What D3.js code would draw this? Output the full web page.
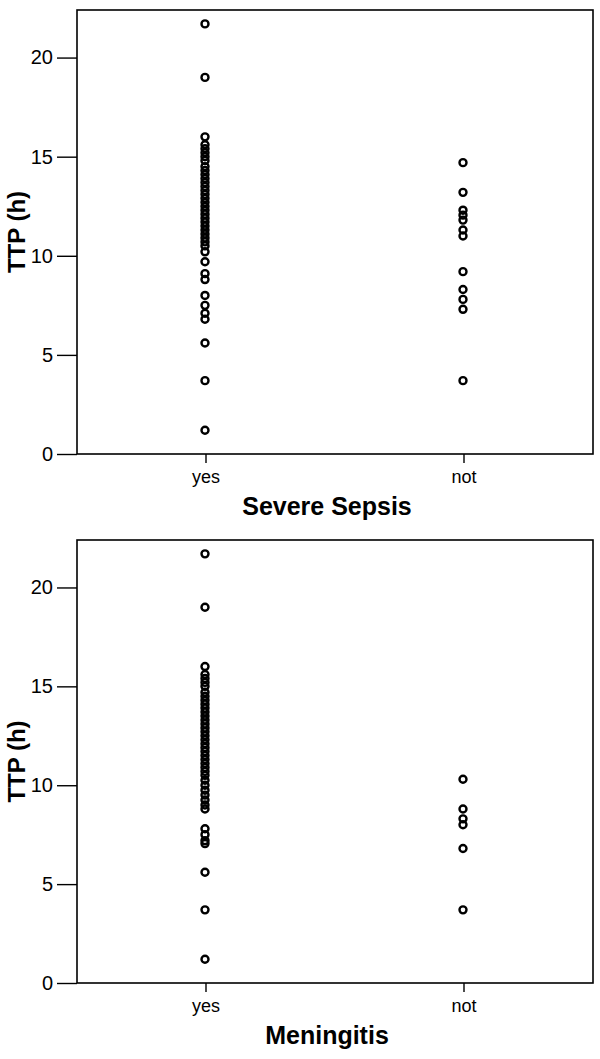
<!DOCTYPE html>
<html>
<head>
<meta charset="utf-8">
<script src="https://cdn.jsdelivr.net/npm/d3@7"></script>
<style>
body{margin:0;background:#fff;}
svg{display:block;}
text{font-family:"Liberation Sans",Arial,Helvetica,sans-serif;fill:#000;}
</style>
</head>
<body>
<svg id="chart" width="600" height="1059"></svg>
<script>
const categories = ["yes", "not"];
const yTicks = [0, 5, 10, 15, 20];
const yDomain = [0, 22.4];

const sepsisYes = [21.7, 19.0, 16.0, 15.6, 15.4, 15.2, 15.0, 14.8, 14.5, 14.3, 14.1, 13.9, 13.7, 13.5, 13.3, 13.1, 12.9, 12.7, 12.5, 12.3, 12.1, 11.9, 11.7, 11.5, 11.3, 11.1, 10.9, 10.7, 10.5, 10.2, 9.7, 9.1, 8.8, 8.0, 7.5, 7.1, 6.8, 5.6, 3.7, 1.2];
const sepsisNot = [14.7, 13.2, 12.3, 12.05, 11.8, 11.3, 11.0, 9.2, 8.3, 7.8, 7.3, 3.7];
const meningYes = [21.7, 19.0, 16.0, 15.6, 15.4, 15.2, 15.0, 14.7, 14.5, 14.3, 14.1, 13.9, 13.7, 13.5, 13.3, 13.1, 12.9, 12.7, 12.5, 12.3, 12.1, 11.9, 11.7, 11.5, 11.3, 11.1, 10.9, 10.7, 10.5, 10.25, 10.0, 9.75, 9.5, 9.25, 9.0, 8.8, 7.8, 7.5, 7.2, 7.05, 5.6, 3.7, 1.2];
const meningNot = [10.3, 8.8, 8.3, 8.0, 6.8, 3.7];

const panels = [
  {title: "Severe Sepsis", yes: sepsisYes, not: sepsisNot, top: 10, bottom: 454},
  {title: "Meningitis", yes: meningYes, not: meningNot, top: 540, bottom: 983}
];

const svg = d3.select("#chart");
const left = 77, right = 593;

panels.forEach(p => {
  const g = svg.append("g");
  const x = d3.scaleBand().domain(categories).range([left, right]).padding(0);
  const y = d3.scaleLinear().domain(yDomain).range([p.bottom, p.top]);

  // frame
  g.append("rect").attr("x", left).attr("y", p.top)
    .attr("width", right - left).attr("height", p.bottom - p.top)
    .attr("fill", "none").attr("stroke", "#000").attr("stroke-width", 1.6);

  // y axis
  const ya = g.append("g").attr("transform", `translate(${left},0)`)
    .call(d3.axisLeft(y).tickValues(yTicks).tickSize(20).tickPadding(4).tickFormat(d3.format("d")));
  ya.select(".domain").remove();
  ya.selectAll("line").attr("stroke", "#000").attr("stroke-width", 1.4);
  ya.selectAll("text").attr("font-size", 20).style("font-family", '"Liberation Sans",Arial,sans-serif');

  // x axis
  const xa = g.append("g").attr("transform", `translate(0,${p.bottom})`)
    .call(d3.axisBottom(x).tickSize(9).tickPadding(7));
  xa.select(".domain").remove();
  xa.selectAll("line").attr("stroke", "#000").attr("stroke-width", 1.4);
  xa.selectAll("text").attr("font-size", 18).style("font-family", '"Liberation Sans",Arial,sans-serif');

  // axis titles
  g.append("text").attr("x", (left + right) / 2 - 8).attr("y", p.bottom + 61)
    .attr("text-anchor", "middle").attr("font-size", 25).attr("font-weight", "bold")
    .text(p.title);
  g.append("text")
    .attr("transform", `translate(25,${(p.top + p.bottom) / 2}) rotate(-90)`)
    .attr("text-anchor", "middle").attr("font-size", 24).attr("font-weight", "bold")
    .text("TTP (h)");

  // points
  const pts = [];
  p.yes.forEach(v => pts.push({c: "yes", v}));
  p.not.forEach(v => pts.push({c: "not", v}));
  g.selectAll("circle.pt").data(pts).join("circle")
    .attr("class", "pt")
    .attr("cx", d => x(d.c) + x.bandwidth() / 2 - 1)
    .attr("cy", d => y(d.v))
    .attr("r", 3.5)
    .attr("fill", "none")
    .attr("stroke", "#000")
    .attr("stroke-width", 2.4);
});
</script>
</body>
</html>
